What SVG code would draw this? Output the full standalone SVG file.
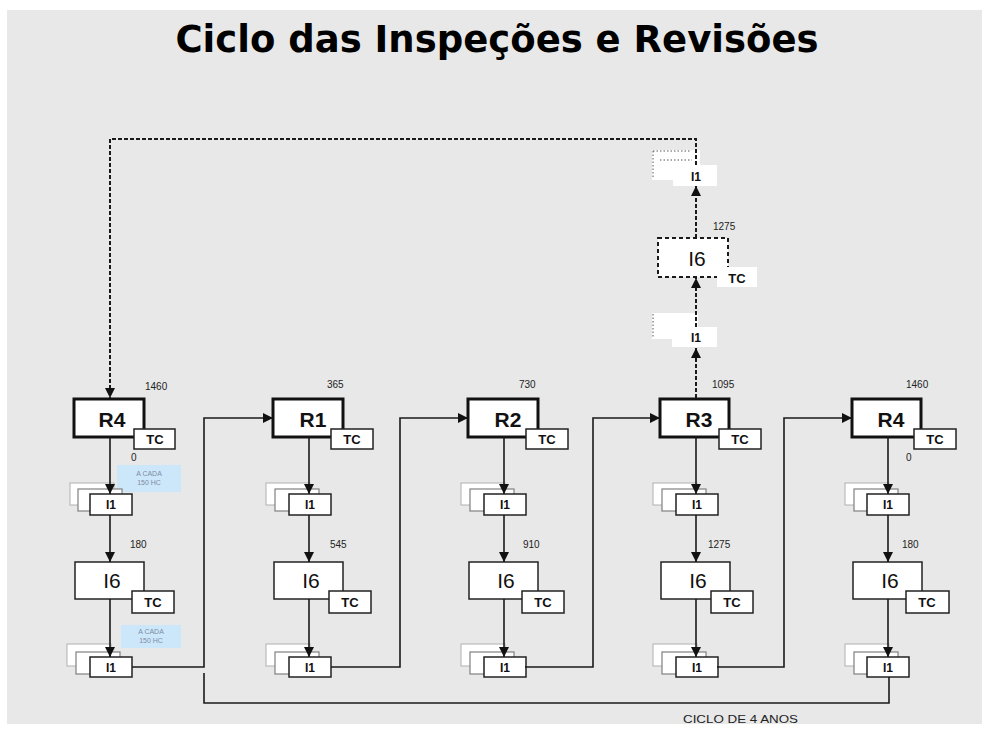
<svg xmlns="http://www.w3.org/2000/svg" width="989" height="751" viewBox="0 0 989 751">
<defs>
<marker id="arr" markerUnits="userSpaceOnUse" markerWidth="10" markerHeight="11" refX="10" refY="5" orient="auto">
<path d="M0,0 L10,5 L0,10 z" fill="#111"/>
</marker>
<style>
.bg{fill:#e8e8e8}
.rb{fill:#fff;stroke:#111;stroke-width:3}
.bx{fill:#fff;stroke:#222;stroke-width:1.5}
.tc{fill:#fff;stroke:#222;stroke-width:1.5}
.s1{fill:#fff;stroke:#b0b0b0;stroke-width:1}
.s2{fill:#fff;stroke:#808080;stroke-width:1.2}
.ln{fill:none;stroke:#1a1a1a;stroke-width:1.6}
.dl{fill:none;stroke:#1a1a1a;stroke-width:2;stroke-dasharray:4 2}
.gh{fill:#fff;stroke:none}
.ghd{fill:none;stroke:#555;stroke-width:1;stroke-dasharray:1.5 2}
.rt{font-family:"Liberation Sans",Arial,sans-serif;font-weight:bold;font-size:21px;fill:#111;text-anchor:middle}
.it{font-family:"Liberation Sans",Arial,sans-serif;font-size:21px;fill:#111;text-anchor:middle}
.tt{font-family:"Liberation Sans",Arial,sans-serif;font-weight:bold;font-size:13px;fill:#111;text-anchor:middle}
.i1{font-family:"Liberation Sans",Arial,sans-serif;font-weight:bold;font-size:12px;fill:#111;text-anchor:middle}
.nm{font-family:"Liberation Sans",Arial,sans-serif;font-size:10px;fill:#222}
.bl{fill:#cde7fa}
.btx{font-family:"Liberation Sans",Arial,sans-serif;font-size:7px;fill:#7d8ca3;text-anchor:middle}
.title{font-family:"DejaVu Sans",Verdana,sans-serif;font-weight:bold;font-size:37px;fill:#000;text-anchor:middle}
</style>
</defs>
<rect x="0" y="0" width="989" height="751" fill="#fff"/>
<rect class="bg" x="7" y="10" width="975" height="714"/>
<text class="title" x="497" y="52">Ciclo das Inspeções e Revisões</text>

<!-- column 1 -->
<g id="r4-start"><rect class="rb" x="74" y="399" width="70" height="38"/><text class="rt" x="112" y="427">R4</text></g>
<g id="r4-start-tc"><rect class="tc" x="134" y="429" width="41" height="20"/><text class="tt" x="155" y="444">TC</text></g>
<text class="nm" x="145" y="390">1460</text>
<text class="nm" x="131" y="461">0</text>
<g id="note1"><rect class="bl" x="117" y="465" width="64" height="27"/><text class="btx" x="149" y="476">A CADA</text><text class="btx" x="149" y="485">150 HC</text></g>
<g id="i1-1a"><rect class="s1" x="70" y="483" width="44" height="22"/><rect class="s2" x="78" y="489" width="44" height="22"/><rect class="bx" x="90" y="494" width="42" height="21"/><text class="i1" x="111" y="509">I1</text></g>
<text class="nm" x="130" y="548">180</text>
<g id="i6-1"><rect class="bx" x="75" y="562" width="69" height="37"/><text class="it" x="112" y="588">I6</text></g>
<g id="i6-1-tc"><rect class="tc" x="132" y="591" width="42" height="22"/><text class="tt" x="153" y="607">TC</text></g>
<g id="note2"><rect class="bl" x="121" y="625" width="60" height="23"/><text class="btx" x="151" y="634">A CADA</text><text class="btx" x="151" y="643">150 HC</text></g>
<g id="i1-1b"><rect class="s1" x="67" y="644" width="44" height="22"/><rect class="s2" x="76" y="652" width="44" height="22"/><rect class="bx" x="90" y="657" width="42" height="20"/><text class="i1" x="111" y="672">I1</text></g>

<!-- column 2 -->
<g id="r1"><rect class="rb" x="273" y="399" width="70" height="38"/><text class="rt" x="313" y="427">R1</text></g>
<g id="r1-tc"><rect class="tc" x="331" y="429" width="42" height="20"/><text class="tt" x="352" y="444">TC</text></g>
<text class="nm" x="327" y="388">365</text>
<g id="i1-2a"><rect class="s1" x="266" y="483" width="44" height="22"/><rect class="s2" x="275" y="489" width="44" height="22"/><rect class="bx" x="289" y="494" width="42" height="21"/><text class="i1" x="310" y="509">I1</text></g>
<text class="nm" x="330" y="548">545</text>
<g id="i6-2"><rect class="bx" x="274" y="562" width="69" height="37"/><text class="it" x="311" y="588">I6</text></g>
<g id="i6-2-tc"><rect class="tc" x="329" y="591" width="42" height="22"/><text class="tt" x="350" y="607">TC</text></g>
<g id="i1-2b"><rect class="s1" x="266" y="644" width="44" height="22"/><rect class="s2" x="275" y="652" width="44" height="22"/><rect class="bx" x="289" y="657" width="42" height="20"/><text class="i1" x="310" y="672">I1</text></g>

<!-- column 3 -->
<g id="r2"><rect class="rb" x="468" y="399" width="70" height="38"/><text class="rt" x="508" y="427">R2</text></g>
<g id="r2-tc"><rect class="tc" x="526" y="429" width="42" height="20"/><text class="tt" x="547" y="444">TC</text></g>
<text class="nm" x="519" y="388">730</text>
<g id="i1-3a"><rect class="s1" x="461" y="483" width="44" height="22"/><rect class="s2" x="470" y="489" width="44" height="22"/><rect class="bx" x="484" y="494" width="42" height="21"/><text class="i1" x="505" y="509">I1</text></g>
<text class="nm" x="523" y="548">910</text>
<g id="i6-3"><rect class="bx" x="469" y="562" width="69" height="37"/><text class="it" x="506" y="588">I6</text></g>
<g id="i6-3-tc"><rect class="tc" x="522" y="591" width="42" height="22"/><text class="tt" x="543" y="607">TC</text></g>
<g id="i1-3b"><rect class="s1" x="461" y="644" width="44" height="22"/><rect class="s2" x="470" y="652" width="44" height="22"/><rect class="bx" x="484" y="657" width="42" height="20"/><text class="i1" x="505" y="672">I1</text></g>

<!-- column 4 -->
<g id="r3"><rect class="rb" x="660" y="399" width="69" height="38"/><text class="rt" x="699" y="427">R3</text></g>
<g id="r3-tc"><rect class="tc" x="719" y="429" width="42" height="20"/><text class="tt" x="740" y="444">TC</text></g>
<text class="nm" x="712" y="388">1095</text>
<g id="i1-4a"><rect class="s1" x="653" y="483" width="44" height="22"/><rect class="s2" x="662" y="489" width="44" height="22"/><rect class="bx" x="676" y="494" width="42" height="21"/><text class="i1" x="697" y="509">I1</text></g>
<text class="nm" x="708" y="548">1275</text>
<g id="i6-4"><rect class="bx" x="661" y="562" width="69" height="37"/><text class="it" x="698" y="588">I6</text></g>
<g id="i6-4-tc"><rect class="tc" x="711" y="591" width="42" height="22"/><text class="tt" x="732" y="607">TC</text></g>
<g id="i1-4b"><rect class="s1" x="653" y="644" width="44" height="22"/><rect class="s2" x="662" y="652" width="44" height="22"/><rect class="bx" x="676" y="657" width="42" height="20"/><text class="i1" x="697" y="672">I1</text></g>

<!-- column 5 -->
<g id="r4-end"><rect class="rb" x="852" y="399" width="69" height="38"/><text class="rt" x="891" y="427">R4</text></g>
<g id="r4-end-tc"><rect class="tc" x="914" y="429" width="42" height="20"/><text class="tt" x="935" y="444">TC</text></g>
<text class="nm" x="906" y="388">1460</text>
<text class="nm" x="906" y="461">0</text>
<g id="i1-5a"><rect class="s1" x="845" y="483" width="44" height="22"/><rect class="s2" x="854" y="489" width="44" height="22"/><rect class="bx" x="867" y="494" width="42" height="21"/><text class="i1" x="888" y="509">I1</text></g>
<text class="nm" x="902" y="548">180</text>
<g id="i6-5"><rect class="bx" x="853" y="562" width="69" height="37"/><text class="it" x="890" y="588">I6</text></g>
<g id="i6-5-tc"><rect class="tc" x="906" y="591" width="43" height="22"/><text class="tt" x="927" y="607">TC</text></g>
<g id="i1-5b"><rect class="s1" x="845" y="644" width="44" height="22"/><rect class="s2" x="854" y="652" width="44" height="22"/><rect class="bx" x="867" y="657" width="42" height="20"/><text class="i1" x="888" y="672">I1</text></g>

<!-- dashed future column -->
<g id="i1-ghost-low"><rect class="gh" x="652" y="313" width="46" height="26"/><path class="ghd" d="M653 314 V337"/><rect class="gh" x="672" y="327" width="45" height="20"/><text class="i1" x="696" y="342">I1</text></g>
<g id="i6-ghost"><rect x="658" y="238" width="70" height="39" fill="#fff" stroke="#1a1a1a" stroke-width="2" stroke-dasharray="4 3"/><text class="it" x="697" y="266">I6</text></g>
<g id="i6-ghost-tc"><rect class="gh" x="717" y="267" width="40" height="20"/><text class="tt" x="737" y="283">TC</text></g>
<text class="nm" x="713" y="230">1275</text>
<g id="i1-ghost-top"><rect class="gh" x="652" y="150" width="48" height="30"/><path class="ghd" d="M653 151 H690 M653 151 V178 M660 160 H692"/><rect class="gh" x="673" y="165" width="44" height="21"/><text class="i1" x="696" y="181">I1</text></g>

<g id="connectors">
<path class="ln" d="M110 437 V494" marker-end="url(#arr)"/>
<path class="ln" d="M110 515 V562" marker-end="url(#arr)"/>
<path class="ln" d="M110 599 V657" marker-end="url(#arr)"/>
<path class="ln" d="M309 437 V494" marker-end="url(#arr)"/>
<path class="ln" d="M309 515 V562" marker-end="url(#arr)"/>
<path class="ln" d="M309 599 V657" marker-end="url(#arr)"/>
<path class="ln" d="M504 437 V494" marker-end="url(#arr)"/>
<path class="ln" d="M504 515 V562" marker-end="url(#arr)"/>
<path class="ln" d="M504 599 V657" marker-end="url(#arr)"/>
<path class="ln" d="M696 437 V494" marker-end="url(#arr)"/>
<path class="ln" d="M696 515 V562" marker-end="url(#arr)"/>
<path class="ln" d="M696 599 V657" marker-end="url(#arr)"/>
<path class="ln" d="M888 437 V494" marker-end="url(#arr)"/>
<path class="ln" d="M888 515 V562" marker-end="url(#arr)"/>
<path class="ln" d="M888 599 V657" marker-end="url(#arr)"/>
<path class="ln" d="M132 667 H204 V418 H273" marker-end="url(#arr)"/>
<path class="ln" d="M331 667 H400 V418 H468" marker-end="url(#arr)"/>
<path class="ln" d="M525 667 H593 V418 H660" marker-end="url(#arr)"/>
<path class="ln" d="M717 667 H784 V418 H852" marker-end="url(#arr)"/>
<path class="ln" d="M204 673 V703 H889 V677"/>
<path class="dl" d="M696 398 V348" marker-end="url(#arr)"/>
<path class="dl" d="M696 327 V278" marker-end="url(#arr)"/>
<path class="dl" d="M696 238 V186" marker-end="url(#arr)"/>
<path class="dl" d="M696 165 V139 H110 V398" marker-end="url(#arr)"/>
</g>

<text x="683" y="723" font-family="'Liberation Sans',Arial,sans-serif" font-size="11" fill="#222" textLength="115" lengthAdjust="spacingAndGlyphs">CICLO DE 4 ANOS</text>
</svg>
